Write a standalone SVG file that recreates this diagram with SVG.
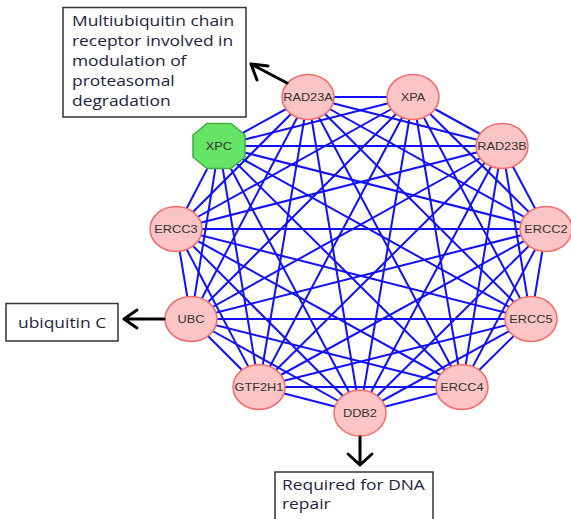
<svg xmlns="http://www.w3.org/2000/svg" width="571" height="519" viewBox="0 0 571 519">
  <style>
    .e{stroke:#1010ff;stroke-width:2;fill:none}
    .n{fill:#fcc4c4;stroke:#f86a6a;stroke-width:1.5}
    .g{fill:#66e466;stroke:#3fae3f;stroke-width:1.5}
    .lbl{font-family:"Liberation Sans",Arial,sans-serif;font-size:11px;fill:#333;text-anchor:middle;transform-box:fill-box;transform-origin:center;transform:scaleX(1.16)}
    .box{fill:#fff;stroke:#333;stroke-width:1.5}
    .note{font-family:"Open Sans","Noto Sans",sans-serif;font-size:15px;fill:#1c2340;transform-box:fill-box;transform-origin:left;transform:scaleX(1.16)}
    .arr{stroke:#000;stroke-width:3;fill:none;stroke-linecap:round;stroke-linejoin:round}
  </style>

  <!-- interaction edges: every pair of the eleven proteins -->
  <g id="edges">
    <line class="e" x1="413" y1="97" x2="502" y2="146"/>
    <line class="e" x1="413" y1="97" x2="546" y2="229"/>
    <line class="e" x1="413" y1="97" x2="531" y2="319"/>
    <line class="e" x1="413" y1="97" x2="462" y2="387"/>
    <line class="e" x1="413" y1="97" x2="360" y2="413"/>
    <line class="e" x1="413" y1="97" x2="259" y2="387"/>
    <line class="e" x1="413" y1="97" x2="191" y2="319"/>
    <line class="e" x1="413" y1="97" x2="176" y2="229"/>
    <line class="e" x1="413" y1="97" x2="219" y2="146"/>
    <line class="e" x1="413" y1="97" x2="308" y2="97"/>

    <line class="e" x1="502" y1="146" x2="546" y2="229"/>
    <line class="e" x1="502" y1="146" x2="531" y2="319"/>
    <line class="e" x1="502" y1="146" x2="462" y2="387"/>
    <line class="e" x1="502" y1="146" x2="360" y2="413"/>
    <line class="e" x1="502" y1="146" x2="259" y2="387"/>
    <line class="e" x1="502" y1="146" x2="191" y2="319"/>
    <line class="e" x1="502" y1="146" x2="176" y2="229"/>
    <line class="e" x1="502" y1="146" x2="219" y2="146"/>
    <line class="e" x1="502" y1="146" x2="308" y2="97"/>

    <line class="e" x1="546" y1="229" x2="531" y2="319"/>
    <line class="e" x1="546" y1="229" x2="462" y2="387"/>
    <line class="e" x1="546" y1="229" x2="360" y2="413"/>
    <line class="e" x1="546" y1="229" x2="259" y2="387"/>
    <line class="e" x1="546" y1="229" x2="191" y2="319"/>
    <line class="e" x1="546" y1="229" x2="176" y2="229"/>
    <line class="e" x1="546" y1="229" x2="219" y2="146"/>
    <line class="e" x1="546" y1="229" x2="308" y2="97"/>

    <line class="e" x1="531" y1="319" x2="462" y2="387"/>
    <line class="e" x1="531" y1="319" x2="360" y2="413"/>
    <line class="e" x1="531" y1="319" x2="259" y2="387"/>
    <line class="e" x1="531" y1="319" x2="191" y2="319"/>
    <line class="e" x1="531" y1="319" x2="176" y2="229"/>
    <line class="e" x1="531" y1="319" x2="219" y2="146"/>
    <line class="e" x1="531" y1="319" x2="308" y2="97"/>

    <line class="e" x1="462" y1="387" x2="360" y2="413"/>
    <line class="e" x1="462" y1="387" x2="259" y2="387"/>
    <line class="e" x1="462" y1="387" x2="191" y2="319"/>
    <line class="e" x1="462" y1="387" x2="176" y2="229"/>
    <line class="e" x1="462" y1="387" x2="219" y2="146"/>
    <line class="e" x1="462" y1="387" x2="308" y2="97"/>

    <line class="e" x1="360" y1="413" x2="259" y2="387"/>
    <line class="e" x1="360" y1="413" x2="191" y2="319"/>
    <line class="e" x1="360" y1="413" x2="176" y2="229"/>
    <line class="e" x1="360" y1="413" x2="219" y2="146"/>
    <line class="e" x1="360" y1="413" x2="308" y2="97"/>

    <line class="e" x1="259" y1="387" x2="191" y2="319"/>
    <line class="e" x1="259" y1="387" x2="176" y2="229"/>
    <line class="e" x1="259" y1="387" x2="219" y2="146"/>
    <line class="e" x1="259" y1="387" x2="308" y2="97"/>

    <line class="e" x1="191" y1="319" x2="176" y2="229"/>
    <line class="e" x1="191" y1="319" x2="219" y2="146"/>
    <line class="e" x1="191" y1="319" x2="308" y2="97"/>

    <line class="e" x1="176" y1="229" x2="219" y2="146"/>
    <line class="e" x1="176" y1="229" x2="308" y2="97"/>

    <line class="e" x1="219" y1="146" x2="308" y2="97"/>
  </g>

  <!-- protein nodes -->
  <g id="XPA"><ellipse class="n" cx="413" cy="97" rx="26" ry="22.5"/><text class="lbl" x="413" y="101">XPA</text></g>
  <g id="RAD23B"><ellipse class="n" cx="502" cy="146" rx="26" ry="22.5"/><text class="lbl" x="502" y="150">RAD23B</text></g>
  <g id="ERCC2"><ellipse class="n" cx="546" cy="229" rx="26" ry="22.5"/><text class="lbl" x="546" y="233">ERCC2</text></g>
  <g id="ERCC5"><ellipse class="n" cx="531" cy="319" rx="26" ry="22.5"/><text class="lbl" x="531" y="323">ERCC5</text></g>
  <g id="ERCC4"><ellipse class="n" cx="462" cy="387" rx="26" ry="22.5"/><text class="lbl" x="462" y="391">ERCC4</text></g>
  <g id="DDB2"><ellipse class="n" cx="360" cy="413" rx="26" ry="23"/><text class="lbl" x="360" y="417">DDB2</text></g>
  <g id="GTF2H1"><ellipse class="n" cx="259" cy="387" rx="26" ry="22.5"/><text class="lbl" x="259" y="391">GTF2H1</text></g>
  <g id="UBC"><ellipse class="n" cx="191" cy="319" rx="26" ry="22.5"/><text class="lbl" x="191" y="323">UBC</text></g>
  <g id="ERCC3"><ellipse class="n" cx="176" cy="229" rx="26" ry="22.5"/><text class="lbl" x="176" y="233">ERCC3</text></g>
  <g id="XPC"><polygon class="g" points="207,123.5 231,123.5 245,135 245,157 231,168.5 207,168.5 193,157 193,135"/><text class="lbl" x="219" y="150">XPC</text></g>
  <g id="RAD23A"><ellipse class="n" cx="308" cy="97" rx="26" ry="22.5"/><text class="lbl" x="308" y="101">RAD23A</text></g>

  <!-- annotation callouts -->
  <g id="note-RAD23A">
    <rect class="box" x="63" y="7.5" width="183" height="109.5"/>
    <text class="note" x="72" y="26">Multiubiquitin chain</text>
    <text class="note" x="72" y="46">receptor involved in</text>
    <text class="note" x="72" y="66">modulation of</text>
    <text class="note" x="72" y="86">proteasomal</text>
    <text class="note" x="72" y="106">degradation</text>
    <path class="arr" d="M287,83 L251,64 M268,66 L251,64 L257,80"/>
  </g>

  <g id="note-UBC">
    <rect class="box" x="6" y="303.5" width="112" height="37.5"/>
    <text class="note" x="18" y="328">ubiquitin C</text>
    <path class="arr" d="M164,319 L124,319 M137,310 L124,319 L137,328"/>
  </g>

  <g id="note-DDB2">
    <rect class="box" x="275" y="472" width="158" height="60"/>
    <text class="note" x="282" y="490">Required for DNA</text>
    <text class="note" x="282" y="509">repair</text>
    <path class="arr" d="M360,437 L360,465 M348,454 L360,465 L372,454"/>
  </g>
</svg>
